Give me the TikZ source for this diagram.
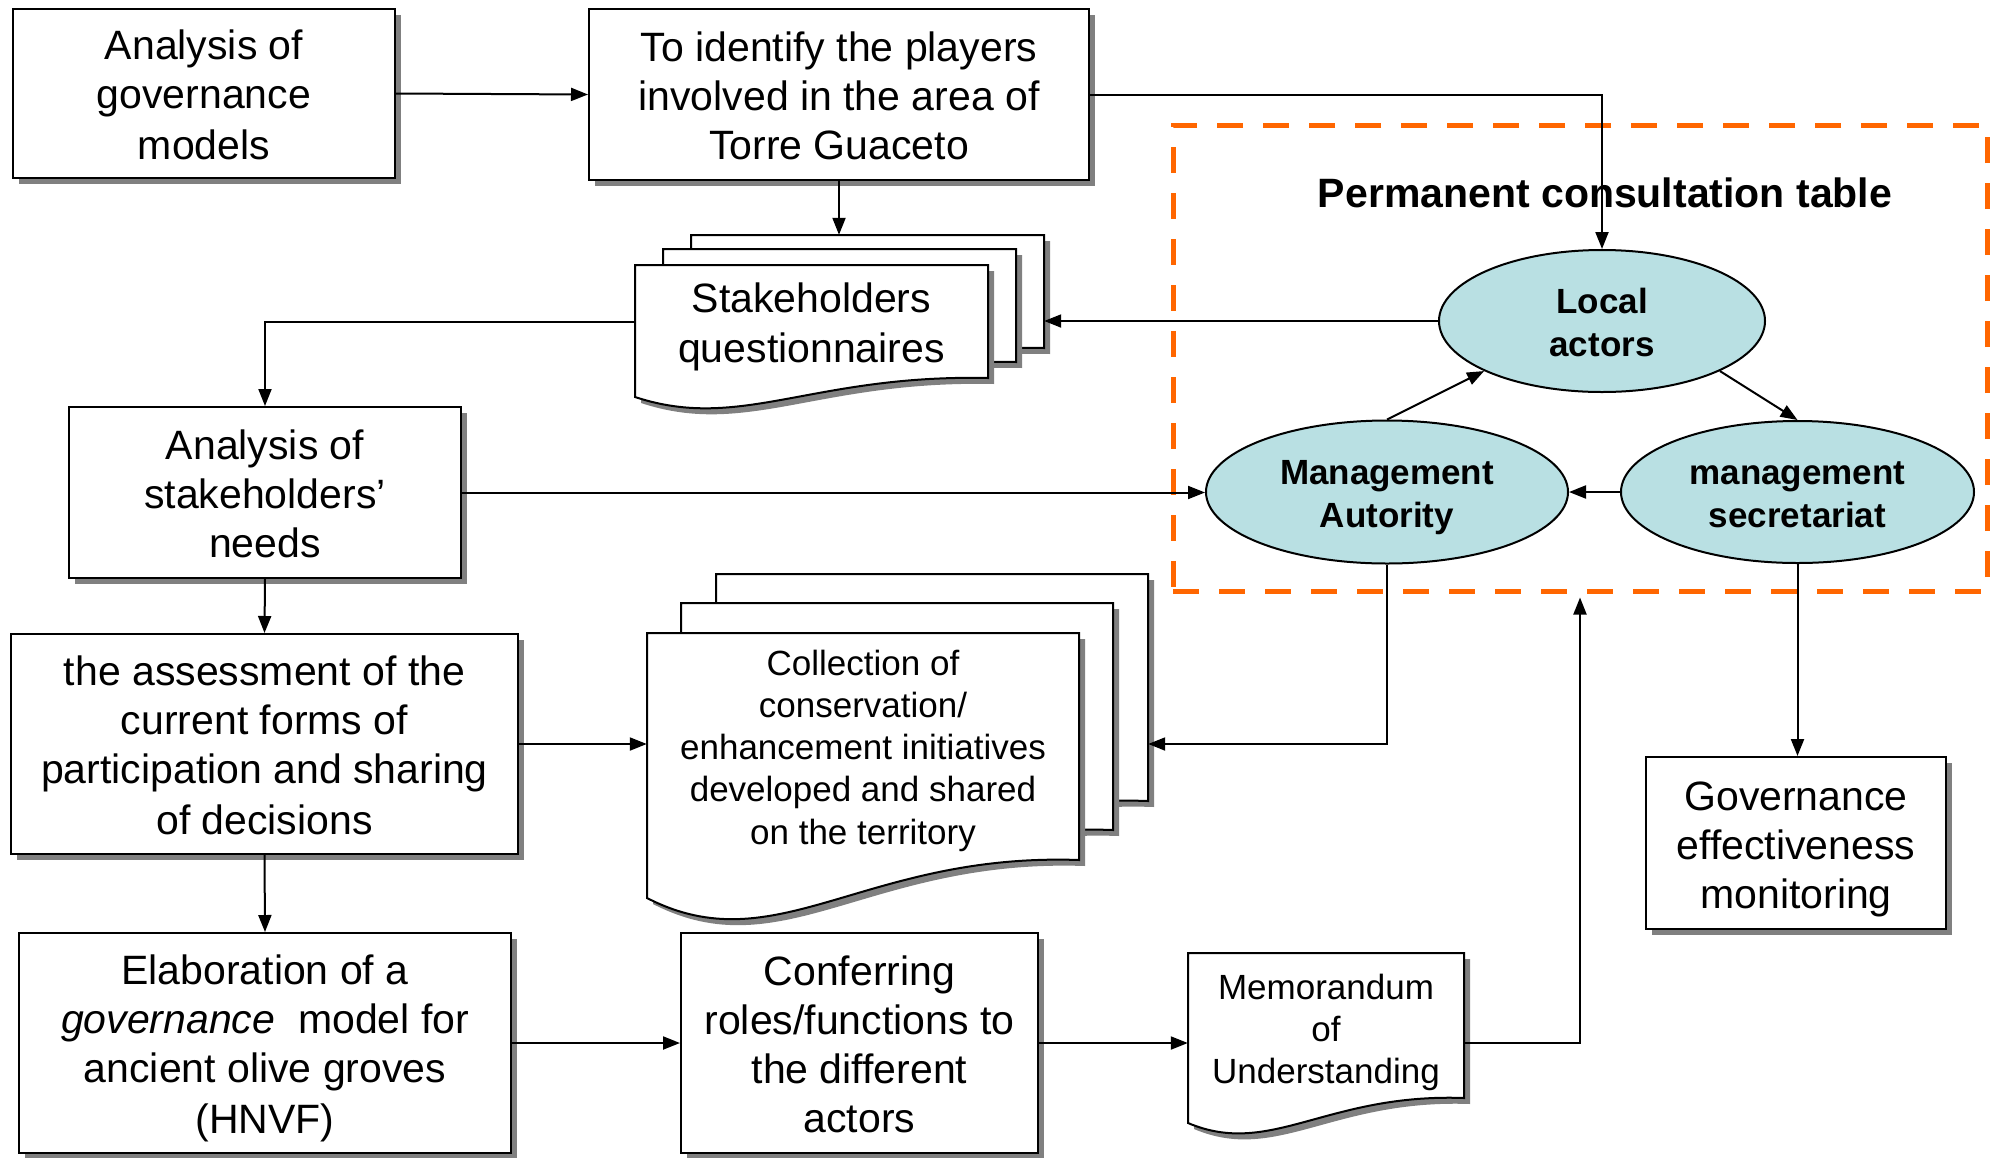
\documentclass[tikz,border=0pt]{standalone}
\usepackage{fontspec}
\setmainfont{Liberation Sans}
\usetikzlibrary{arrows.meta,shadows,shapes.geometric}
\definecolor{dashorange}{RGB}{255,102,0}
\definecolor{ellfill}{RGB}{185,224,227}
\definecolor{shadowgray}{RGB}{128,128,128}
\newcommand{\bigstrutx}{\rule[-8.7pt]{0pt}{49.7pt}}
\newcommand{\smlstrutx}{\rule[-7.4pt]{0pt}{42.4pt}}
\newcommand{\docpage}[6]{%
  \path[page] (#1,#2) -- ++(#3,0) -- ++(0,#4)
    .. controls ({#1+0.5*#3},{#2+#4-0.2*#5}) and ({#1+0.3*#3},{#2+#4+#5+3.5*#6}) .. (#1,{#2+#4+#5}) -- cycle;}
\begin{document}
\begin{tikzpicture}[x=1pt,y=-1pt,
  shad/.style={drop shadow={shadow xshift=6pt,shadow yshift=-6pt,fill=shadowgray,opacity=1}},
  procbox/.style={draw, line width=2pt, fill=white, shad, align=center, inner sep=0pt, font=\fontsize{41}{49}\selectfont},
  page/.style={draw, line width=2pt, fill=white, shad},
  pagenode/.style={inner sep=0pt, align=center},
  oval/.style={ellipse, draw, line width=2pt, fill=ellfill, align=center, inner sep=0pt, font=\fontsize{35}{42}\selectfont\bfseries},
  conn/.style={line width=2pt, -{Triangle[length=17pt,width=13pt]}},
]
\useasboundingbox (0,0) rectangle (1997,1157);

% permanent consultation table frame
\node[draw=dashorange, line width=5pt, dash pattern=on 26pt off 20pt, minimum width=814pt, minimum height=466pt, inner sep=0pt] (pmt) at (1580,358) {};
\node[font=\fontsize{41}{49}\selectfont\bfseries, inner sep=0pt] (title) at (1605,193) {Permanent consultation table};

% process boxes
\node[procbox, minimum width=382pt, minimum height=169pt] (A) at (204,93.5) {\bigstrutx Analysis of\\governance\\models\bigstrutx};
\node[procbox, minimum width=500pt, minimum height=171pt] (B) at (839,94.5) {\bigstrutx To identify the players\\involved in the area of\\Torre Guaceto\bigstrutx};
\node[procbox, minimum width=392pt, minimum height=171pt] (C) at (265,492.5) {\bigstrutx Analysis of\\stakeholders’\\needs\bigstrutx};
\node[procbox, minimum width=507pt, minimum height=220pt] (D) at (264.5,744) {\bigstrutx the assessment of the\\current forms of\\participation and sharing\\of decisions\bigstrutx};
\node[procbox, minimum width=492pt, minimum height=220pt] (E) at (265,1043) {\bigstrutx Elaboration of a\\\textit{governance}\ \ model for\\ancient olive groves\\(HNVF)\bigstrutx};
\node[procbox, minimum width=357pt, minimum height=220pt] (F) at (859.5,1043) {\bigstrutx Conferring\\roles/functions to\\the different\\actors\bigstrutx};
\node[procbox, minimum width=300pt, minimum height=172pt] (G) at (1796,843) {\bigstrutx Governance\\effectiveness\\monitoring\bigstrutx};

% stakeholders questionnaires (stack of pages)
\docpage{691}{235}{353}{113}{19}{10}
\docpage{663}{249}{353}{113}{19}{10}
\docpage{635}{265}{353}{113}{19}{10}
\node[pagenode, minimum width=353pt, minimum height=113pt] (sqa) at (867.5,291.5) {};
\node[pagenode, minimum width=353pt, minimum height=113pt] (sqb) at (839.5,305.5) {};
\node[pagenode, minimum width=353pt, minimum height=113pt, font=\fontsize{41}{50}\selectfont] (sqc) at (811.5,321.5) {\bigstrutx Stakeholders\\questionnaires\bigstrutx};

% collection of initiatives (stack of pages)
\docpage{716}{574}{432}{227}{38}{19}
\docpage{681}{603}{432}{227}{38}{19}
\docpage{647}{633}{432}{227}{38}{19}
\node[pagenode, minimum width=432pt, minimum height=227pt] (cola) at (932,687.5) {};
\node[pagenode, minimum width=432pt, minimum height=227pt] (colb) at (897,716.5) {};
\node[pagenode, minimum width=432pt, minimum height=227pt, font=\fontsize{35}{42}\selectfont] (colc) at (863,746.5) {\smlstrutx Collection of\\conservation/\\enhancement initiatives\\developed and shared\\on the territory\smlstrutx};

% memorandum
\docpage{1188}{953}{276}{145}{25}{10}
\node[pagenode, minimum width=276pt, minimum height=145pt, font=\fontsize{35}{42}\selectfont] (memo) at (1326,1028) {\smlstrutx Memorandum\\of\\Understanding\smlstrutx};

% ellipses
\node[oval, minimum width=326pt, minimum height=142pt] (local) at (1602,321) {\smlstrutx Local\\actors\smlstrutx};
\node[oval, minimum width=362pt, minimum height=143pt] (MA) at (1387,492) {\smlstrutx Management\\Autority\smlstrutx};
\node[oval, minimum width=353pt, minimum height=142pt] (ms) at (1797.5,492) {\smlstrutx management\\secretariat\smlstrutx};

% connectors
\draw[conn] (A.east) -- (B.west);
\draw[conn] (B.south) -- (B.south |- sqa.north);
\draw[conn] (B.east) -| (local.north);
\draw[conn] (local.west) -- (local.west -| sqa.east);
\draw[conn] (sqc.west) -| (C.north);
\draw[conn] (C.east) -- (C.east -| MA.west);
\draw[conn] (C.south) -- (D.north);
\draw[conn] (D.east) -- (D.east -| colc.west);
\draw[conn] (MA.south) |- (D.east -| cola.east);
\draw[conn] (D.south) -- (E.north);
\draw[conn] (E.east) -- (F.west);
\draw[conn] (F.east) -- (F.east -| memo.west);
\draw[conn, shorten >=4pt] (F.east -| memo.east) -| (pmt.south);
\draw[conn] (ms.south) -- (ms.south |- G.north);
\draw[conn] (ms.west) -- (MA.east);
\draw[conn] (MA.north) -- (local.203);
\draw[conn] (local.337) -- (ms.north);
\end{tikzpicture}
\end{document}
